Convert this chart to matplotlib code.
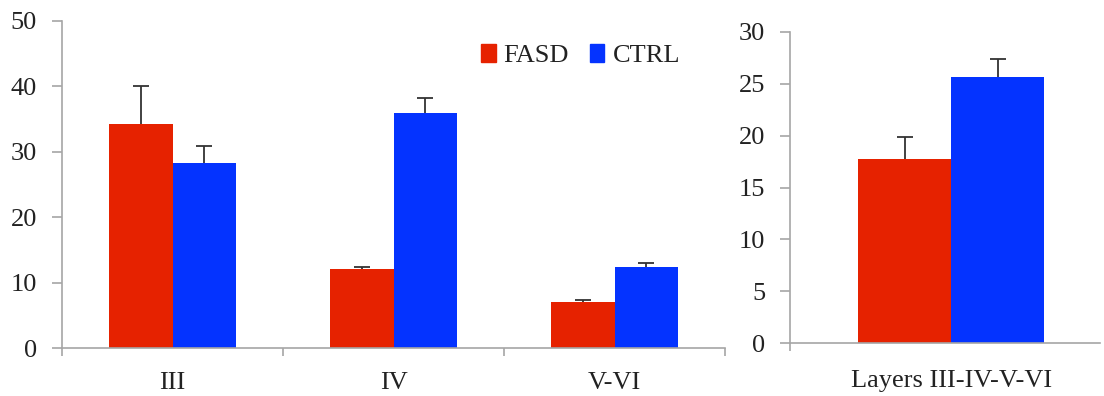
import numpy as np
import matplotlib
matplotlib.use('Agg')
import matplotlib.pyplot as plt
from matplotlib.patches import Patch

# ---------------- data ----------------
layers = ['III', 'IV', 'V-VI']
fasd = [34.3, 12.1, 7.0]
fasd_err = [5.8, 0.3, 0.3]
ctrl = [28.3, 36.0, 12.4]
ctrl_err = [2.6, 2.2, 0.6]

total_label = ['Layers III-IV-V-VI']
total_fasd = [17.7]
total_fasd_err = [2.2]
total_ctrl = [25.6]
total_ctrl_err = [1.8]

RED = '#e62200'
BLUE = '#0433ff'
AXIS_GRAY = '#a6a6a6'
TEXT = '#222222'
ERR = '#333333'

plt.rcParams['font.family'] = ['Liberation Serif', 'DejaVu Serif']
plt.rcParams['font.size'] = 19

fig = plt.figure(figsize=(11.04, 3.96), dpi=100)


def style_axes(ax):
    for side in ['top', 'right']:
        ax.spines[side].set_visible(False)
    for side in ['left', 'bottom']:
        ax.spines[side].set_color(AXIS_GRAY)
        ax.spines[side].set_linewidth(1.2)
    ax.tick_params(axis='y', colors=AXIS_GRAY, labelcolor=TEXT, length=7, width=1.2, pad=11)
    # category labels without ticks; boundary ticks as minor
    ax.tick_params(axis='x', which='major', length=0, labelcolor=TEXT)
    ax.tick_params(axis='x', which='minor', colors=AXIS_GRAY, length=6, width=1.2, direction='out')


def bars(ax, x, a, a_err, b, b_err, w):
    for pos, vals, errs, col in [(x - w / 2, a, a_err, RED), (x + w / 2, b, b_err, BLUE)]:
        vals = np.asarray(vals)
        errs = np.asarray(errs)
        ax.bar(pos, vals, w, color=col, zorder=2)
        # upper-only error bar with a single cap
        ax.errorbar(pos, vals, yerr=[np.zeros(len(vals)), errs], fmt='none',
                    ecolor=ERR, elinewidth=1.3, capsize=0, zorder=3)
        ax.plot(pos, vals + errs, linestyle='none', marker='_', markersize=12,
                markeredgewidth=1.3, color=ERR, zorder=3)


# ---------------- left panel ----------------
ax1 = fig.add_axes([0.0562, 0.1212, 0.6005, 0.8258])
x = np.arange(len(layers))
bars(ax1, x, fasd, fasd_err, ctrl, ctrl_err, 0.288)
ax1.set_xlim(-0.5, len(layers) - 0.5)
ax1.set_ylim(0, 50)
ax1.set_yticks(np.arange(0, 51, 10))
ax1.set_xticks(x)
ax1.set_xticklabels(layers)
ax1.set_xticks(np.arange(-0.5, len(layers)), minor=True)
style_axes(ax1)
ax1.tick_params(axis='x', which='major', pad=17)

handles = [Patch(color=RED, label='FASD'), Patch(color=BLUE, label='CTRL')]
ax1.legend(handles=handles, loc='center', bbox_to_anchor=(0.782, 0.895), ncol=2, frameon=False,
           handlelength=0.55, handleheight=0.7, handletextpad=0.3, columnspacing=0.8,
           labelcolor=TEXT, fontsize=19)

# ---------------- right panel ----------------
ax2 = fig.add_axes([0.7156, 0.133, 0.2808, 0.787])
x2 = np.arange(len(total_label))
bars(ax2, x2, total_fasd, total_fasd_err, total_ctrl, total_ctrl_err, 0.3)
ax2.set_xlim(-0.52, 0.48)
ax2.set_ylim(0, 30)
ax2.set_yticks(np.arange(0, 31, 5))
ax2.set_xticks(x2)
ax2.set_xticklabels(total_label)
ax2.set_xticks([-0.52], minor=True)
style_axes(ax2)
ax2.tick_params(axis='x', which='major', pad=19)

fig.savefig('out.png', dpi=100)
